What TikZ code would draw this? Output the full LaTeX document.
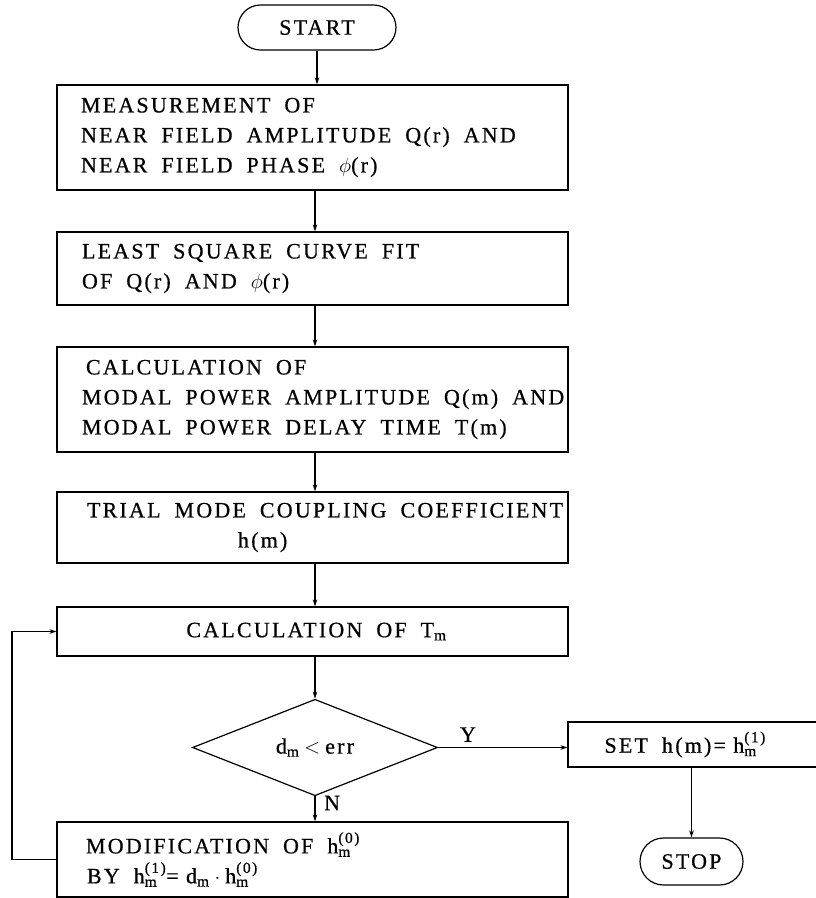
\documentclass[tikz,border=0pt]{standalone}
\usepackage{amsmath}
\usepackage{fontspec}
\setmainfont{Liberation Serif}[LetterSpace=10,FakeBold=0.6]
\usetikzlibrary{shapes.geometric,shapes.misc,arrows.meta}
\newcommand{\sbsp}[2]{$_{\text{#1}}^{\text{#2}}$}
\newcommand{\sbm}{$_{\text{m}}$}
\newcommand{\ws}{\nobreak\hspace{14pt}\nobreak}
\newcommand{\nodefont}{\fontsize{22}{30}\selectfont\hyphenpenalty=10000\exhyphenpenalty=10000\relax}
\begin{document}
\begin{tikzpicture}[x=1pt,y=-1pt,
  proc/.style={draw, line width=1.2pt, rectangle, inner sep=0pt, minimum width=511pt, font=\nodefont},
  term/.style={draw, line width=1.2pt, rounded rectangle, inner sep=0pt, font=\nodefont},
  decis/.style={draw, line width=1.2pt, diamond, inner sep=0pt, minimum width=245pt, minimum height=79pt, font=\nodefont},
  lbl/.style={inner sep=0pt, font=\nodefont},
  conn/.style={line width=1.2pt, -{Stealth[length=7pt,width=4.5pt]}}]
\useasboundingbox (0,0) rectangle (815,898);
\coordinate (col) at (315,0);
\node[term, minimum width=158pt, minimum height=45pt] (start) at (317,27.5) {START};
\node[proc, minimum height=105pt, text width=469pt, align=left] (meas) at (312.5,137.5)
  {\hspace*{3pt}MEASUREMENT\ws OF\\\hspace*{3pt}NEAR\ws FIELD\ws AMPLITUDE\ws Q(r)\ws AND\\\hspace*{3pt}NEAR\ws FIELD\ws PHASE\ws $\phi$(r)};
\node[proc, minimum height=73pt, text width=469pt, align=left] (fit) at (312.5,268.5)
  {\hspace*{4pt}LEAST\ws SQUARE\ws CURVE\ws FIT\\\hspace*{4pt}OF\ws Q(r)\ws AND\ws $\phi$(r)};
\node[proc, minimum height=105pt, text width=469pt, align=left] (calc) at (312.5,399.5)
  {\hspace*{8pt}CALCULATION\ws OF\\\hspace*{4pt}MODAL\ws POWER\ws AMPLITUDE\ws Q(m)\ws AND\\\hspace*{4pt}MODAL\ws POWER\ws DELAY\ws TIME\ws T(m)};
\node[proc, minimum height=71pt, text width=469pt, align=left] (trial) at (312.5,527.5)
  {\hspace*{9pt}TRIAL\ws MODE\ws COUPLING\ws COEFFICIENT\\\hspace*{160pt}h(m)};
\node[proc, minimum height=49pt, align=center] (calcT) at (312.5,631.5)
  {\hspace*{8pt}CALCULATION\ws OF\ws T\sbm};
\node[decis] (dec) at (315,747.5) {d\sbm\hspace{5pt}$<$\hspace{5pt}err};
\node[proc, minimum height=75pt, text width=469pt, align=left] (modif) at (312.5,859.5)
  {\hspace*{8pt}MODIFICATION\ws OF\ws h\sbsp{m}{(0)}\\\hspace*{9pt}BY\ws h\sbsp{m}{(1)}= d\sbm\hspace{5pt}$\cdot$\hspace{5pt}h\sbsp{m}{(0)}};
\node[proc, minimum width=252pt, minimum height=45pt, text width=215pt, align=left] (set) at (694,744.5)
  {\hspace*{18pt}SET\ws h(m)= h\sbsp{m}{(1)}};
\node[term, minimum width=103pt, minimum height=47pt] (stop) at (691.5,861.5) {STOP};
\node[lbl, anchor=south] (ylbl) at (468,742) {Y};
\node[lbl, anchor=west] (nlbl) at (324,803) {N};
\draw[conn] (start.south) -- (start.south |- meas.north);
\draw[conn] (col |- meas.south) -- (col |- fit.north);
\draw[conn] (col |- fit.south) -- (col |- calc.north);
\draw[conn] (col |- calc.south) -- (col |- trial.north);
\draw[conn] (col |- trial.south) -- (col |- calcT.north);
\draw[conn] (col |- calcT.south) -- (dec.north);
\draw[conn] (dec.south) -- (dec.south |- modif.north);
\draw[conn] (dec.east) -- (dec.east -| set.west);
\draw[conn] (set.south -| stop.north) -- (stop.north);
\draw[conn] (modif.west) -- (12,859.5) |- (calcT.west);
\end{tikzpicture}
\end{document}
